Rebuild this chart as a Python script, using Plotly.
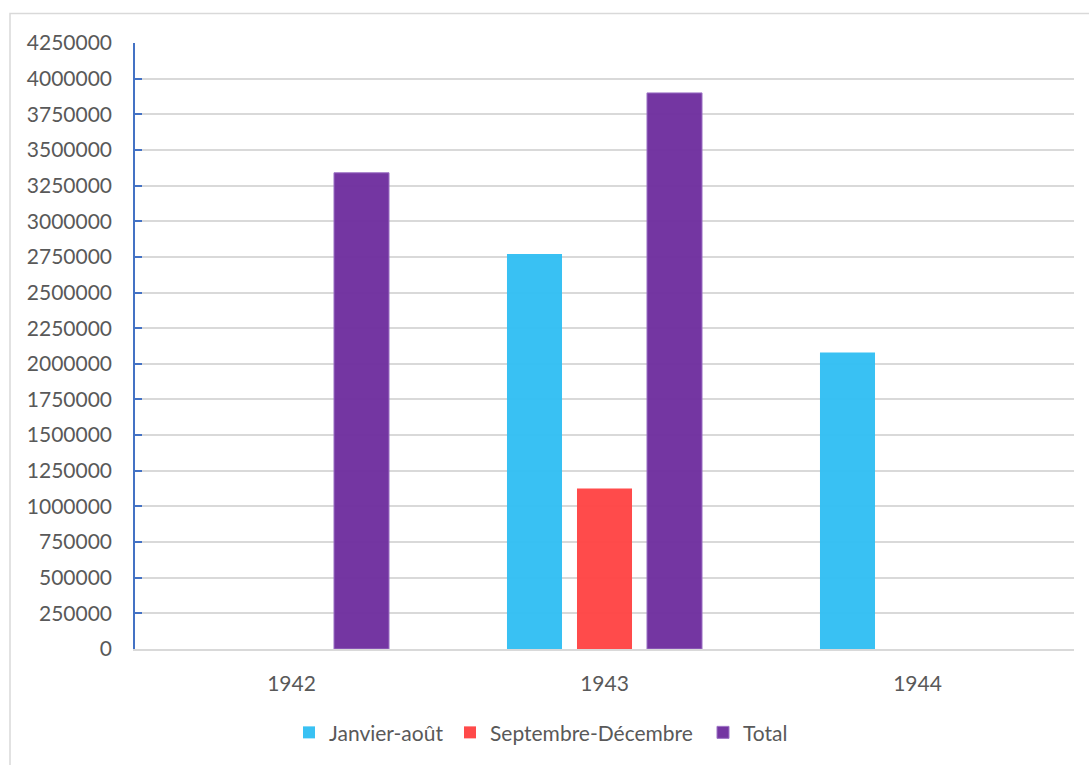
import plotly.graph_objects as go

years = ["1942", "1943", "1944"]
janvier_aout = [None, 2770000, 2080000]
septembre_decembre = [None, 1125000, None]
total = [3340000, 3900000, None]
y_ticks = list(range(0, 4250001, 250000))

W, H = 1089, 765
L, R, T, B = 135, 15, 43, 114
pw, ph = W - L - R, H - T - B

def px_x(p):
    return (p - L) / pw

def px_y(p):
    return (H - B - p) / ph

font_family = "Lato, 'Open Sans', sans-serif"
txt = "#595959"
fs = 21

fig = go.Figure()
fig.add_trace(go.Bar(name="Janvier-août", x=years, y=janvier_aout, legend="legend",
                     marker=dict(color="#33bff3", line=dict(width=0)), opacity=0.97))
fig.add_trace(go.Bar(name="Septembre-Décembre", x=years, y=septembre_decembre, legend="legend2",
                     marker=dict(color="#ff4545", line=dict(width=0)), opacity=0.97))
fig.add_trace(go.Bar(name="Total", x=years, y=total, legend="legend3",
                     marker=dict(color="#7030a0", line=dict(width=1, color="#9b70c4")), opacity=0.97))

def leg(xpx):
    return dict(orientation="h", x=px_x(xpx), xanchor="left", y=px_y(735), yanchor="middle",
                font=dict(size=fs, color=txt, family=font_family), bgcolor="rgba(0,0,0,0)",
                borderwidth=0)

fig.update_layout(
    width=W, height=H,
    margin=dict(l=L, r=R, t=T, b=B),
    paper_bgcolor="white", plot_bgcolor="white",
    barmode="group", bargap=0.329, bargroupgap=0.214,
    font=dict(family=font_family, size=fs, color=txt),
    showlegend=True,
    legend=leg(289), legend2=leg(450), legend3=leg(703),
    xaxis=dict(showline=True, linecolor="#d9d9d9", linewidth=1.5, ticks="",
               showgrid=False, ticklabelstandoff=15, tickfont=dict(size=fs, color=txt)),
    yaxis=dict(range=[0, 4250000], tickmode="array", tickvals=y_ticks,
               ticktext=[str(v) for v in y_ticks],
               showline=True, linecolor="#4472c4", linewidth=1.5,
               ticks="inside", ticklen=7, tickwidth=1.5, tickcolor="#4472c4",
               showgrid=True, gridcolor="#d9d9d9", gridwidth=1.5,
               zeroline=False, ticklabelstandoff=17,
               tickfont=dict(size=fs, color=txt)),
    shapes=[dict(type="rect", xref="paper", yref="paper",
                 x0=px_x(10), x1=px_x(1120), y0=px_y(800), y1=px_y(13.5),
                 line=dict(color="#d9d9d9", width=1.5), fillcolor="rgba(0,0,0,0)", layer="below")],
)

fig.write_html("out.html", config={"displayModeBar": False},
               post_script="document.body.style.margin='0px';document.body.style.overflow='hidden';")
